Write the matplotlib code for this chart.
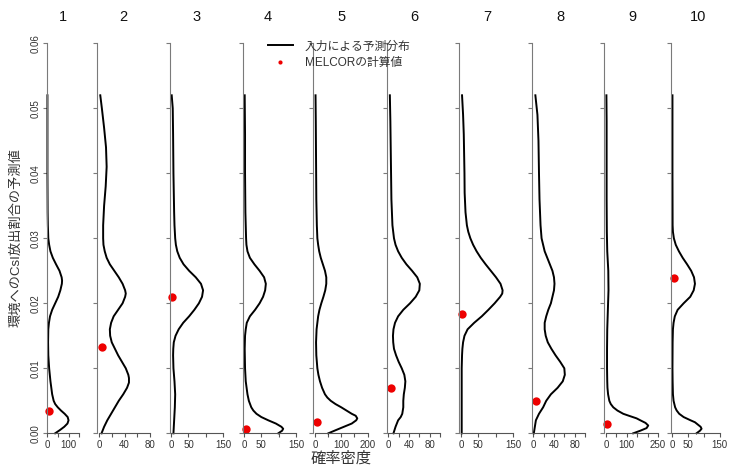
import matplotlib
matplotlib.use('Agg')
import matplotlib.pyplot as plt

plt.rcParams['font.family'] = ['Liberation Sans', 'Noto Sans CJK JP', 'DejaVu Sans']

# ---------------- data ----------------
panel_titles = ['1', '2', '3', '4', '5', '6', '7', '8', '9', '10']

# density curves: y = predicted CsI release fraction, d = probability density
p1_y = [0.000, 0.0005, 0.001, 0.0015, 0.002, 0.0025, 0.003, 0.0035, 0.004, 0.0045, 0.005, 0.006, 0.008,
        0.010, 0.012, 0.014, 0.016, 0.017, 0.018, 0.019, 0.020, 0.021, 0.022, 0.023, 0.0235, 0.024, 0.025,
        0.026, 0.027, 0.028, 0.029, 0.030, 0.032, 0.034, 0.040, 0.046, 0.052]
p1_d = [38, 60, 80, 95, 100, 96, 82, 65, 50, 38, 31, 24, 16, 10, 6, 5, 6, 9, 14, 24, 38, 52, 62, 69, 70,
        68, 58, 42, 27, 16, 10, 6, 4, 3, 2, 2, 2]

p2_y = [0.000, 0.001, 0.002, 0.003, 0.004, 0.005, 0.006, 0.007, 0.0078, 0.0085, 0.009, 0.010, 0.011, 0.012,
        0.013, 0.014, 0.015, 0.016, 0.017, 0.018, 0.019, 0.020, 0.021, 0.0215, 0.022, 0.023, 0.024, 0.025,
        0.026, 0.027, 0.028, 0.029, 0.030, 0.032, 0.035, 0.038, 0.041, 0.044, 0.047, 0.050, 0.052]
p2_d = [4, 8, 13, 19, 25, 31, 38, 44, 47, 47, 46, 42, 36, 30, 25, 20, 17.5, 17, 19, 23, 30, 37, 41, 42, 41,
        37, 31, 24, 17, 12, 9, 7, 6.5, 6.5, 8, 10.5, 12, 11, 8, 4.5, 2]

p3_y = [0.000, 0.002, 0.004, 0.006, 0.008, 0.010, 0.012, 0.013, 0.014, 0.015, 0.016, 0.017, 0.018, 0.019,
        0.020, 0.021, 0.022, 0.023, 0.024, 0.025, 0.026, 0.027, 0.028, 0.029, 0.030, 0.032, 0.034, 0.040,
        0.046, 0.050, 0.052]
p3_d = [7, 9, 11, 12, 10, 7, 6, 6.5, 8, 13, 22, 35, 52, 67, 80, 89, 92, 86, 71, 52, 36, 25, 18, 14, 12, 10,
        9, 7, 6, 5, 2]

p4_y = [0.000, 0.0004, 0.0007, 0.001, 0.0015, 0.002, 0.0025, 0.003, 0.0035, 0.004, 0.005, 0.006, 0.008,
        0.010, 0.013, 0.015, 0.016, 0.017, 0.018, 0.019, 0.020, 0.021, 0.022, 0.023, 0.024, 0.025, 0.026,
        0.027, 0.028, 0.029, 0.030, 0.034, 0.040, 0.046, 0.052]
p4_d = [99, 110, 113, 108, 92, 70, 50, 36, 27, 21, 14, 10, 5, 3, 2, 3, 5, 8, 17, 32, 45, 55, 61, 63, 58,
        45, 30, 17, 10, 7, 6, 4, 3, 3, 2]

p5_y = [0.000, 0.0005, 0.001, 0.0015, 0.002, 0.0023, 0.0027, 0.003, 0.0035, 0.004, 0.0045, 0.005, 0.0055,
        0.006, 0.007, 0.008, 0.009, 0.010, 0.012, 0.014, 0.016, 0.018, 0.019, 0.020, 0.021, 0.022, 0.023,
        0.024, 0.025, 0.026, 0.027, 0.028, 0.029, 0.030, 0.032, 0.036, 0.042, 0.048, 0.052]
p5_d = [51, 80, 110, 140, 157, 161, 155, 140, 120, 100, 78, 60, 47, 38, 27, 19, 13, 9, 5, 4, 6, 12, 17, 24,
        32, 39, 43, 43, 38, 30, 22, 16, 12, 9, 7, 5, 4, 3, 2]

p6_y = [0.000, 0.001, 0.002, 0.0025, 0.003, 0.004, 0.005, 0.006, 0.007, 0.008, 0.009, 0.010, 0.011, 0.012,
        0.013, 0.014, 0.015, 0.016, 0.017, 0.018, 0.019, 0.020, 0.021, 0.022, 0.023, 0.024, 0.025, 0.026,
        0.027, 0.028, 0.029, 0.030, 0.032, 0.036, 0.042, 0.048, 0.052]
p6_d = [10, 14, 19, 24, 27, 29, 29, 30, 32, 33, 31, 26, 20, 15, 11, 9.5, 9, 10, 13, 19, 29, 42, 53, 60, 61,
        56, 46, 35, 26, 19, 14, 11, 8, 6, 5, 4, 3]

p7_y = [0.000, 0.005, 0.010, 0.012, 0.013, 0.014, 0.015, 0.016, 0.017, 0.018, 0.019, 0.020, 0.021, 0.0215,
        0.022, 0.023, 0.024, 0.025, 0.026, 0.027, 0.028, 0.029, 0.030, 0.031, 0.032, 0.034, 0.037, 0.040,
        0.043, 0.046, 0.049, 0.052]
p7_d = [2, 2, 2, 3, 4, 6, 10, 19, 38, 60, 79, 97, 113, 119, 120, 114, 101, 86, 71, 57, 45, 35, 27, 21, 17,
        13, 10.5, 10, 9, 8, 6, 3]

p8_y = [0.000, 0.001, 0.002, 0.003, 0.004, 0.005, 0.006, 0.007, 0.008, 0.009, 0.010, 0.011, 0.012, 0.013,
        0.014, 0.015, 0.016, 0.017, 0.018, 0.019, 0.020, 0.021, 0.022, 0.023, 0.024, 0.025, 0.026, 0.027,
        0.028, 0.029, 0.030, 0.032, 0.036, 0.040, 0.045, 0.049, 0.052]
p8_d = [1, 3, 5, 11, 19, 25, 34, 47, 57, 61, 60, 52, 43, 35, 28, 24, 22, 22, 25, 29, 34, 37, 40, 41, 40, 37,
        32, 27, 22, 19, 16, 14, 12, 11, 10, 8, 4]

p9_y = [0.000, 0.0004, 0.0008, 0.0012, 0.0016, 0.002, 0.0023, 0.0027, 0.003, 0.0035, 0.004, 0.0045, 0.005,
        0.006, 0.007, 0.008, 0.010, 0.013, 0.016, 0.019, 0.022, 0.025, 0.028, 0.031, 0.036, 0.042, 0.048,
        0.052]
p9_d = [131, 165, 195, 203, 190, 165, 147, 110, 83, 55, 35, 23, 16, 10, 7, 6, 5, 5, 6, 9, 12, 11, 6, 4, 3,
        3, 3, 2]

p10_y = [0.000, 0.0004, 0.0007, 0.001, 0.0017, 0.002, 0.0025, 0.003, 0.0035, 0.004, 0.005, 0.006, 0.008,
         0.010, 0.014, 0.016, 0.017, 0.018, 0.019, 0.020, 0.021, 0.022, 0.023, 0.024, 0.025, 0.026, 0.027,
         0.028, 0.029, 0.030, 0.031, 0.032, 0.040, 0.052]
p10_d = [77, 88, 93, 90, 72, 58, 36, 22, 14, 9, 4, 2, 1, 0.5, 1, 2, 4, 8, 17, 36, 57, 68, 72, 69, 60, 47,
         33, 21, 11, 5, 2, 1, 0.5, 0.5]

curves_y = [p1_y, p2_y, p3_y, p4_y, p5_y, p6_y, p7_y, p8_y, p9_y, p10_y]
curves_d = [p1_d, p2_d, p3_d, p4_d, p5_d, p6_d, p7_d, p8_d, p9_d, p10_d]

# MELCOR calculated values
melcor_y = [0.0034, 0.0133, 0.0209, 0.0006, 0.0018, 0.0070, 0.0183, 0.0049, 0.0015, 0.0239]
melcor_d = [8, 4, 3, 5, 8, 5, 2, 5, 3, 6]

# x-axis ticks and shown labels for each panel
x_ticks = [[0, 50, 100, 150], [0, 20, 40, 60, 80], [0, 50, 100, 150], [0, 50, 100, 150],
           [0, 50, 100, 150, 200], [0, 20, 40, 60, 80, 100], [0, 50, 100, 150],
           [0, 20, 40, 60, 80, 100], [0, 50, 100, 150, 200, 250], [0, 50, 100, 150]]
x_labels = [['0', '', '100', ''], ['0', '', '40', '', '80'], ['0', '50', '', '150'], ['0', '50', '', '150'],
            ['0', '', '100', '', '200'], ['0', '', '40', '', '80', ''], ['0', '50', '', '150'],
            ['0', '', '40', '', '80', ''], ['0', '', '100', '', '', '250'], ['0', '50', '', '150']]
y_ticks = [0.00, 0.01, 0.02, 0.03, 0.04, 0.05, 0.06]
y_labels = ['0.00', '0.01', '0.02', '0.03', '0.04', '0.05', '0.06']

ylabel = '環境へのCsI放出割合の予測値'
xlabel = '確率密度'
legend_labels = ['入力による予測分布', 'MELCORの計算値']

# ---------------- layout (pixels) ----------------
W, H = 739, 466
spine_px = [46.7, 96.7, 169.7, 242.5, 313.3, 386.7, 459.3, 532.0, 604.0, 671.0]
zero_px = [47.0, 99.0, 171.0, 244.0, 315.0, 388.3, 461.0, 533.3, 606.0, 672.3]
end_px = [79.3, 150.0, 223.3, 296.0, 367.5, 440.0, 513.0, 585.0, 658.0, 719.5]
title_px = [63.3, 123.3, 196.7, 268.0, 342.0, 414.0, 487.0, 560.0, 632.0, 698.0]
y0_px, ytop_px = 433.3, 43.3

fig = plt.figure(figsize=(W / 100, H / 100), dpi=100)

axis_col = '#555555'
yaxis_col = '#7a7a7a'
text_col = '#333333'

handles = []
for i in range(10):
    s, z, e = spine_px[i], zero_px[i], end_px[i]
    M = x_ticks[i][-1]
    k = (e - z) / M
    r = e + 3
    ax = fig.add_axes([s / W, (H - y0_px) / H, (r - s) / W, (y0_px - ytop_px) / H])
    ax.set_xlim(-(z - s) / k, (r - z) / k)
    ax.set_ylim(0, 0.06)
    ax.patch.set_alpha(0)
    for sp in ['top', 'right']:
        ax.spines[sp].set_visible(False)
    ax.spines['left'].set_bounds(0, 0.06)
    ax.spines['left'].set_color(yaxis_col)
    ax.spines['bottom'].set_bounds(0, M)
    ax.spines['bottom'].set_color(axis_col)
    ax.set_xticks(x_ticks[i])
    ax.set_xticklabels(x_labels[i])
    ax.set_yticks(y_ticks)
    if i == 0:
        ax.set_yticklabels(y_labels, rotation=90, va='center')
    else:
        ax.set_yticklabels([])
    ax.tick_params(axis='x', length=3, width=0.8, color=axis_col, labelsize=7, labelcolor=text_col, pad=2)
    ax.tick_params(axis='y', length=3, width=0.8, color=yaxis_col, labelsize=7, labelcolor=text_col, pad=1.5)
    ln, = ax.plot(curves_d[i], curves_y[i], color='black', lw=1.4, clip_on=False,
                  solid_joinstyle='round', label=legend_labels[0])
    dot, = ax.plot([melcor_d[i]], [melcor_y[i]], 'o', color='#ee0000', ms=6, mec='none',
                   clip_on=False, label=legend_labels[1])
    if i == 0:
        handles = [ln, dot]
    fig.text(title_px[i] / W, 1 - 17 / H, panel_titles[i], ha='center', va='center',
             fontsize=10.5, color='#111111')

fig.text(16 / W, 1 - 238 / H, ylabel, rotation=90, ha='center', va='center', fontsize=9.5,
         color=text_col)
fig.text(341 / W, 1 - 458 / H, xlabel, ha='center', va='center', fontsize=11, color=text_col)

leg = fig.legend(handles, legend_labels, loc='upper left', bbox_to_anchor=(268 / W, 1 - 40.5 / H),
                 frameon=False, fontsize=8.5, handlelength=2.1, handletextpad=1.0,
                 labelspacing=0.35, borderpad=0, borderaxespad=0, markerscale=0.5)
for t in leg.get_texts():
    t.set_color(text_col)

fig.savefig('out.png', dpi=100)
